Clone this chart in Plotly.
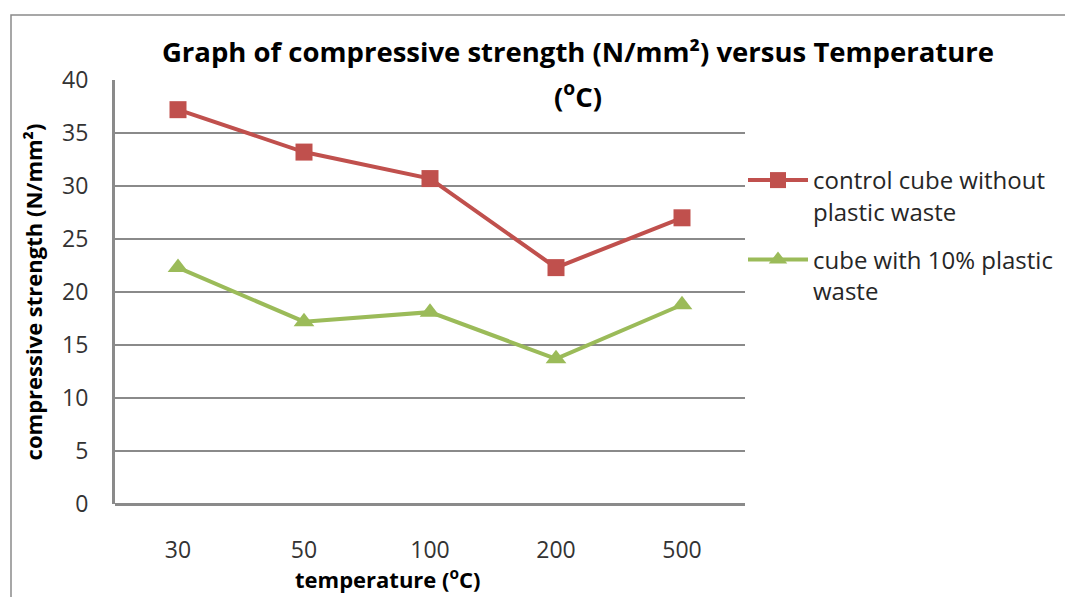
import plotly.graph_objects as go

categories = ["30", "50", "100", "200", "500"]
control = [37.2, 33.2, 30.7, 22.3, 27.0]
plastic = [22.3, 17.2, 18.1, 13.7, 18.8]

RED = "#C0504D"
GREEN = "#9BBB59"
FONT = "Open Sans"

# page is offset by ~8px (body margin); plot area target on screen: x 115-745, y 80-504
OFF = 8
PL, PR, PT, PB = 115 - OFF, 745 - OFF, 80 - OFF, 504 - OFF
W, H = 1073, 597
PW, PH = PR - PL, PB - PT


def px(sx):
    return (sx - OFF - PL) / PW


def py(sy):
    return (PB - (sy - OFF)) / PH


fig = go.Figure()
fig.add_trace(go.Scatter(
    x=categories, y=control, mode="lines+markers",
    name="control cube without<br>plastic waste", legendgroup="a",
    line=dict(color=RED, width=4),
    marker=dict(symbol="square", size=17, color=RED),
))
fig.add_trace(go.Scatter(
    x=categories, y=plastic, mode="lines+markers",
    name="cube with 10% plastic<br>waste", legendgroup="b",
    line=dict(color=GREEN, width=4),
    marker=dict(symbol="triangle-up", size=18, color=GREEN),
))

fig.update_layout(
    width=W, height=H,
    margin=dict(l=PL, r=W - PR, t=PT, b=H - PB),
    paper_bgcolor="white", plot_bgcolor="white",
    font=dict(family=FONT, size=20, color="#262626"),
    title=dict(
        text="<b>Graph of compressive strength (N/mm²) versus Temperature</b>",
        x=(578 - OFF) / W, xanchor="center", y=1 - (52 - OFF) / H, yanchor="middle",
        font=dict(family=FONT, size=27.5, color="black"),
    ),
    showlegend=True,
    legend=dict(
        x=px(743), xanchor="left", y=py(158), yanchor="top",
        font=dict(family=FONT, size=24, color="#262626"),
        itemwidth=60, tracegroupgap=14, valign="top", bgcolor="rgba(0,0,0,0)",
    ),
    xaxis=dict(
        type="category", range=[-0.5, 4.5], showgrid=False, showline=False, ticks="",
        tickfont=dict(family=FONT, size=23, color="#333333"),
        ticklabelstandoff=30,
    ),
    yaxis=dict(
        range=[0, 40], dtick=5, showgrid=True, gridcolor="#8a8a8a", gridwidth=1.5,
        showline=True, linecolor="#8a8a8a", linewidth=3, ticks="",
        zeroline=True, zerolinecolor="#8a8a8a", zerolinewidth=3,
        tickfont=dict(family=FONT, size=23, color="#333333"),
        ticklabelstandoff=19,
        title=dict(text="<b>compressive strength (N/mm²)</b>", standoff=14,
                   font=dict(family=FONT, size=22, color="black")),
    ),
)

fig.add_annotation(
    text="<b>(<sup>o</sup>C)</b>", xref="paper", yref="paper",
    x=px(578), y=py(94), xanchor="center", yanchor="middle",
    showarrow=False, font=dict(family=FONT, size=27.5, color="black"),
)
fig.add_annotation(
    text="<b>temperature (<sup>o</sup>C)</b>", xref="paper", yref="paper",
    x=px(388), y=py(578), xanchor="center", yanchor="middle",
    showarrow=False, font=dict(family=FONT, size=22, color="black"),
)
fig.add_shape(
    type="rect", xref="paper", yref="paper",
    x0=px(11), x1=px(1100), y0=py(640), y1=py(15),
    line=dict(color="#8a8a8a", width=1.5), layer="below",
)

fig.write_html("out.html")
